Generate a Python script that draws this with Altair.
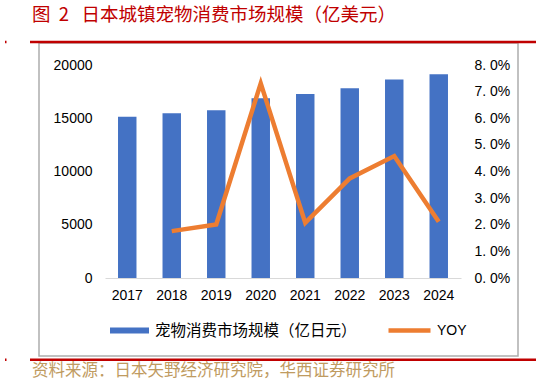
import altair as alt
import pandas as pd

# ---- data ----
years = ["2017", "2018", "2019", "2020", "2021", "2022", "2023", "2024"]
market = [15140, 15460, 15740, 16870, 17270, 17810, 18650, 19130]
yoy = [None, 0.0176, 0.0201, 0.0731, 0.0207, 0.0374, 0.0458, 0.0211]
left_ticks = [0, 5000, 10000, 15000, 20000]
right_ticks = [0.0, 0.01, 0.02, 0.03, 0.04, 0.05, 0.06, 0.07, 0.08]

bar_name = "宠物消费市场规模（亿日元）"
line_name = "YOY"
title_text = "图\u00a0\u00a02\u00a0\u00a0\u00a0日本城镇宠物消费市场规模（亿美元）"
source_text = "资料来源：日本矢野经济研究院，华西证券研究所"

df = pd.DataFrame({"year": years, "market": market, "yoy": yoy})
df["s1"] = bar_name
df["s2"] = line_name

BLUE = "#4472C4"
ORANGE = "#ED7D31"
RED = "#C00000"
NUMFONT = "Liberation Sans"
CJK = "Noto Sans CJK SC"

x_enc = alt.X(
    "year:N",
    sort=years,
    scale=alt.Scale(paddingInner=0.585, paddingOuter=0.2925),
    axis=alt.Axis(
        title=None, labelAngle=0, ticks=False, tickSize=0, domainColor="#D9D9D9",
        domainWidth=1, labelFont=NUMFONT, labelFontSize=14, labelColor="#000000",
        labelPadding=10, grid=False,
    ),
)

base = alt.Chart(df)

bars = base.mark_bar().encode(
    x=x_enc,
    y=alt.Y(
        "market:Q",
        scale=alt.Scale(domain=[0, 20000], nice=False),
        axis=alt.Axis(
            orient="left", title=None, values=left_ticks, format="d", grid=False,
            domain=False, ticks=False, tickSize=0, labelPadding=13, labelFont=NUMFONT,
            labelFontSize=14, labelColor="#000000",
        ),
    ),
    fill=alt.Fill(
        "s1:N",
        scale=alt.Scale(domain=[bar_name], range=[BLUE]),
        legend=alt.Legend(
            title=None, orient="none", legendX=5, legendY=246, padding=0,
            symbolType="M-1,-0.16L1,-0.16L1,0.16L-1,0.16Z", symbolSize=1521,
            symbolStrokeWidth=0, labelFont=CJK, labelFontSize=15.5, labelLimit=400,
            labelColor="#000000", labelOffset=6,
        ),
    ),
)

line = base.transform_filter("isValid(datum.yoy)").mark_line(strokeWidth=4.5).encode(
    x=x_enc,
    y=alt.Y(
        "yoy:Q",
        scale=alt.Scale(domain=[0, 0.08], nice=False),
        axis=alt.Axis(
            orient="right", title=None, values=right_ticks, grid=False, domain=False,
            ticks=False, tickSize=0, labelPadding=13, labelFont=NUMFONT,
            labelFontSize=14, labelColor="#000000",
            labelExpr="replace(format(datum.value, '.1%'), '.', '. ')",
        ),
    ),
    stroke=alt.Stroke(
        "s2:N",
        scale=alt.Scale(domain=[line_name], range=[ORANGE]),
        legend=alt.Legend(
            title=None, orient="none", legendX=281, legendY=242, padding=0,
            symbolType="stroke", symbolSize=1764, symbolStrokeWidth=4.5,
            labelFont=NUMFONT, labelFontSize=14, labelColor="#000000", labelOffset=4,
        ),
    ),
)

deco = alt.Chart(pd.DataFrame({"k": [0]}))

border = deco.mark_rect(fillOpacity=0, stroke="#ADADAD", strokeWidth=1.5).encode(
    x=alt.value(-66), x2=alt.value(413), y=alt.value(-22), y2=alt.value(291)
)
top_rule = deco.mark_rule(color=RED, strokeWidth=2.6).encode(
    x=alt.value(-75), x2=alt.value(431), y=alt.value(-23)
)
top_tick = deco.mark_rule(color=RED, strokeWidth=2.6).encode(
    x=alt.value(-100), x2=alt.value(-98.5), y=alt.value(-23)
)
bot_rule = deco.mark_rule(color=RED, strokeWidth=2.6).encode(
    x=alt.value(-75), x2=alt.value(431), y=alt.value(294.7)
)
bot_tick = deco.mark_rule(color=RED, strokeWidth=2.6).encode(
    x=alt.value(-100), x2=alt.value(-98.5), y=alt.value(294.7)
)
title = deco.mark_text(
    align="left", baseline="middle", font=CJK, fontSize=18.5, color=RED
).encode(x=alt.value(-73), y=alt.value(-50), text=alt.value(title_text))
source = deco.mark_text(
    align="left", baseline="middle", font=CJK, fontSize=16.5, color="#BF9B61"
).encode(x=alt.value(-73), y=alt.value(306), text=alt.value(source_text))

chart = (
    alt.layer(border, top_rule, top_tick, bot_rule, bot_tick, bars, line, title, source)
    .resolve_scale(y="independent")
    .properties(
        width=356,
        height=213,
        autosize=alt.AutoSizeParams(type="none"),
        padding={"left": 105, "top": 65, "right": 75, "bottom": 108},
        background="#FFFFFF",
    )
    .configure_view(stroke=None)
)

chart.save("out.html", embed_options={"renderer": "svg", "actions": False})
